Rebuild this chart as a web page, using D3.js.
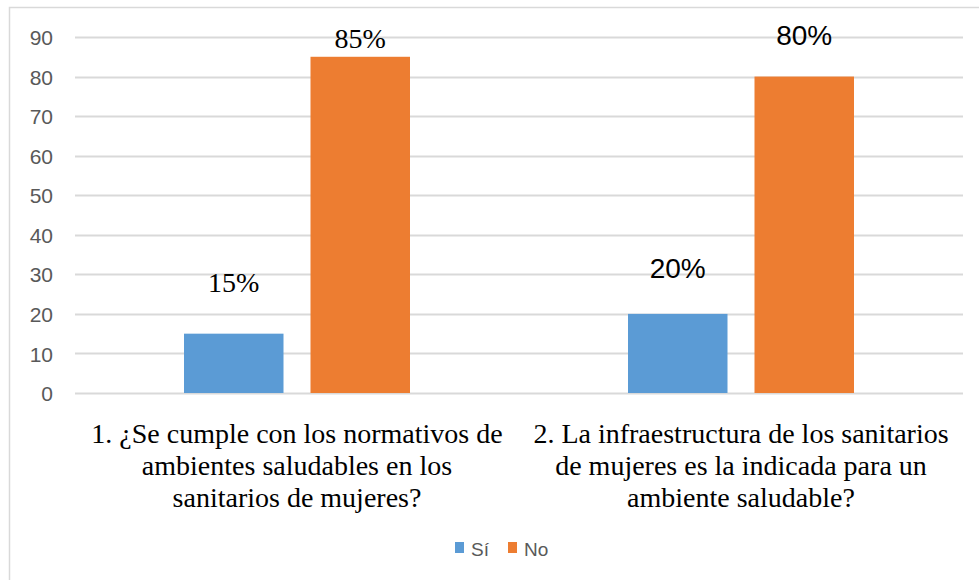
<!DOCTYPE html>
<html>
<head>
<meta charset="utf-8">
<script src="https://cdn.jsdelivr.net/npm/d3@7"></script>
<style>
  body { margin: 0; background: #fff; }
  svg { display: block; }
</style>
</head>
<body>
<svg id="chart"></svg>
<script>
// data
var categories = [
    ['1. ¿Se cumple con los normativos de', 'ambientes saludables en los', 'sanitarios de mujeres?'],
    ['2. La infraestructura de los sanitarios', 'de mujeres es la indicada para un', 'ambiente saludable?']
];
var seriesNames = ['Sí', 'No'];
var siValues = [15, 20];
var noValues = [85, 80];
var labelTexts = [['15%', '85%'], ['20%', '80%']];
// where the data labels were placed (in axis units, baseline)
var labelAt = [[25.5, 87.2], [29, 88]];
var yTicks = [0, 10, 20, 30, 40, 50, 60, 70, 80, 90];

var serif = "Times New Roman, Times, Liberation Serif, DejaVu Serif, serif";
var sans = "Arial, Liberation Sans, sans-serif";
var labelFonts = [serif, sans];
var colors = { 'Sí': '#5B9BD5', 'No': '#ED7D31' };

var width = 979, height = 580;
var svg = d3.select('svg#chart')
    .attr('width', width)
    .attr('height', height);

// frame round the chart area
svg.append('rect')
    .attr('x', 9.5)
    .attr('y', 7.5)
    .attr('width', 990)
    .attr('height', 600)
    .style('fill', 'white')
    .style('stroke', '#d9d9d9')
    .style('stroke-width', 1.5);

var plotLeft = 75, plotRight = 963, plotTop = 37, plotBottom = 393;

var y = d3.scaleLinear().domain([0, 90]).range([plotBottom, plotTop]);
var x0 = d3.scaleBand().domain(d3.range(categories.length)).range([plotLeft, plotRight]).padding(0);
var groupWidth = 226;
var x1 = d3.scaleBand().domain(seriesNames).range([0, groupWidth]).paddingInner(27 / 126.5).paddingOuter(0);
var groupOffset = (x0.bandwidth() - groupWidth) / 2;

// gridlines
svg.append('g')
    .selectAll('line')
    .data(yTicks)
    .join('line')
    .attr('x1', plotLeft)
    .attr('x2', plotRight)
    .attr('y1', function(d){ return Math.round(y(d)) + 0.5; })
    .attr('y2', function(d){ return Math.round(y(d)) + 0.5; })
    .style('stroke', '#d9d9d9')
    .style('stroke-width', 2);

// y axis labels
var yAxis = d3.axisLeft(y).tickValues(yTicks).tickSize(0).tickPadding(0);
var yAxisG = svg.append('g')
    .attr('transform', 'translate(53,0)')
    .call(yAxis);
yAxisG.select('.domain').remove();
yAxisG.attr('font-family', sans).attr('font-size', 21);
yAxisG.selectAll('text')
    .attr('fill', '#595959')
    .attr('dy', '0.36em');

// bars
var rows = categories.map(function(c, i){
    return [
        { cat: i, name: 'Sí', value: siValues[i], label: labelTexts[i][0], at: labelAt[i][0] },
        { cat: i, name: 'No', value: noValues[i], label: labelTexts[i][1], at: labelAt[i][1] }
    ];
});
var flat = d3.merge(rows);

svg.append('g')
    .selectAll('rect')
    .data(flat)
    .join('rect')
    .attr('x', function(d){ return x0(d.cat) + groupOffset + x1(d.name); })
    .attr('y', function(d){ return y(d.value); })
    .attr('width', x1.bandwidth())
    .attr('height', function(d){ return y(0) - y(d.value); })
    .attr('fill', function(d){ return colors[d.name]; });

// data labels
svg.append('g')
    .selectAll('text')
    .data(flat)
    .join('text')
    .attr('x', function(d){ return x0(d.cat) + groupOffset + x1(d.name) + x1.bandwidth() / 2; })
    .attr('y', function(d){ return y(d.at); })
    .attr('text-anchor', 'middle')
    .attr('font-family', function(d){ return labelFonts[d.cat]; })
    .attr('font-size', 28)
    .attr('fill', '#000')
    .text(function(d){ return d.label; });

// category labels
var catG = svg.append('g')
    .selectAll('text')
    .data(categories)
    .join('text')
    .attr('x', function(d, i){ return x0(i) + x0.bandwidth() / 2; })
    .attr('y', 443)
    .attr('text-anchor', 'middle')
    .attr('font-family', serif)
    .attr('font-size', 28)
    .attr('fill', '#000');
catG.selectAll('tspan')
    .data(function(d){ return d; })
    .join('tspan')
    .attr('x', function(){ return d3.select(this.parentNode).attr('x'); })
    .attr('dy', function(d, i){ return i === 0 ? 0 : 32; })
    .text(function(d){ return d; });

// legend
var legend = svg.append('g').attr('transform', 'translate(455,542)');
var legendX = [0, 53];
seriesNames.forEach(function(name, i){
    legend.append('rect')
        .attr('x', legendX[i])
        .attr('y', 0)
        .attr('width', 9)
        .attr('height', 11)
        .attr('fill', colors[name]);
    legend.append('text')
        .attr('x', legendX[i] + 16)
        .attr('y', 14)
        .attr('font-family', sans)
        .attr('font-size', 19)
        .attr('fill', '#595959')
        .text(name);
});
</script>
</body>
</html>
